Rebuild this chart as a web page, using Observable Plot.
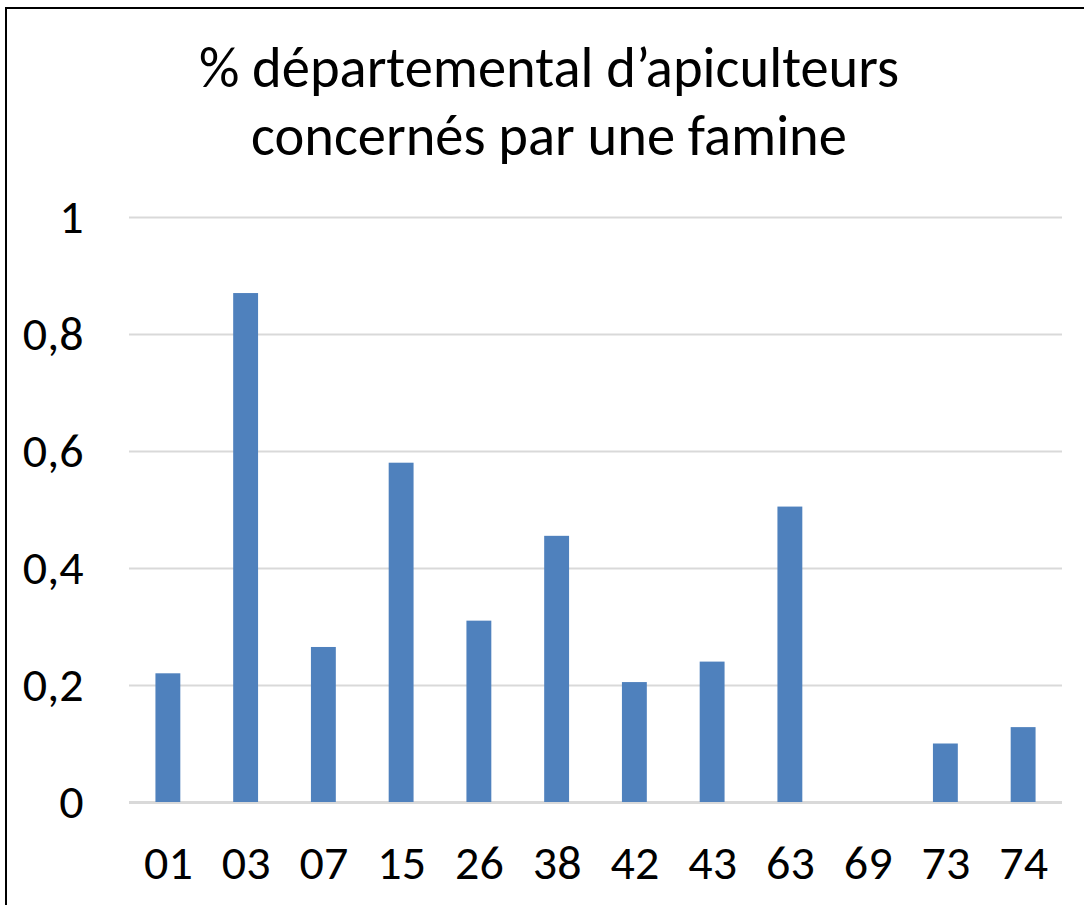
<!DOCTYPE html>
<html>
<head>
<meta charset="utf-8">
<script src="https://cdn.jsdelivr.net/npm/d3@7"></script>
<script src="https://cdn.jsdelivr.net/npm/@observablehq/plot@0.6"></script>
<style>
  html, body { margin: 0; padding: 0; background: #fff; overflow: hidden; width: 1084px; height: 905px; }
  #frame { position: absolute; left: 5px; top: 7px; width: 1100px; height: 920px; border: 2px solid #000; box-sizing: border-box; }
  #title { position: absolute; left: 0; width: 1098px; top: 34px; text-align: center; font-family: Carlito, Calibri, "Open Sans", sans-serif; font-size: 56.5px; line-height: 68px; color: #000; }
  #chart { position: absolute; left: 0; top: 0; }
</style>
</head>
<body>
<div id="frame"></div>
<div id="title">% départemental d’apiculteurs<br>concernés par une famine</div>
<div id="chart"></div>
<script>
const departements = ["01", "03", "07", "15", "26", "38", "42", "43", "63", "69", "73", "74"];
const pourcentages = [0.22, 0.87, 0.265, 0.58, 0.31, 0.455, 0.205, 0.24, 0.505, 0, 0.1, 0.128];
const yTicks = [0, 0.2, 0.4, 0.6, 0.8, 1];

const data = departements.map((d, i) => ({dept: d, value: pourcentages[i]}));

const chart = Plot.plot({
  width: 1084,
  height: 905,
  marginTop: 217,
  marginBottom: 103,
  marginLeft: 129,
  marginRight: 22,
  style: {fontFamily: 'Carlito, Calibri, "Open Sans", sans-serif', fontSize: "48px", color: "#000", background: "transparent", overflow: "visible"},
  x: {domain: departements, paddingInner: 0.68, paddingOuter: 0.34, round: false, label: null},
  y: {domain: [0, 1], label: null},
  marks: [
    Plot.gridY(yTicks, {stroke: "#d9d9d9", strokeOpacity: 1, strokeWidth: 2}),
    Plot.ruleY([0], {stroke: "#d9d9d9", strokeWidth: 3}),
    Plot.barY(data, {x: "dept", y: "value", fill: "#4F81BD"}),
    Plot.axisY(yTicks, {tickSize: 0, tickPadding: 46, fontSize: 48, tickFormat: d => String(d).replace(".", ","), label: null}),
    Plot.axisX({tickSize: 0, tickPadding: 42, fontSize: 48, label: null})
  ]
});
document.getElementById("chart").appendChild(chart);
</script>
</body>
</html>
